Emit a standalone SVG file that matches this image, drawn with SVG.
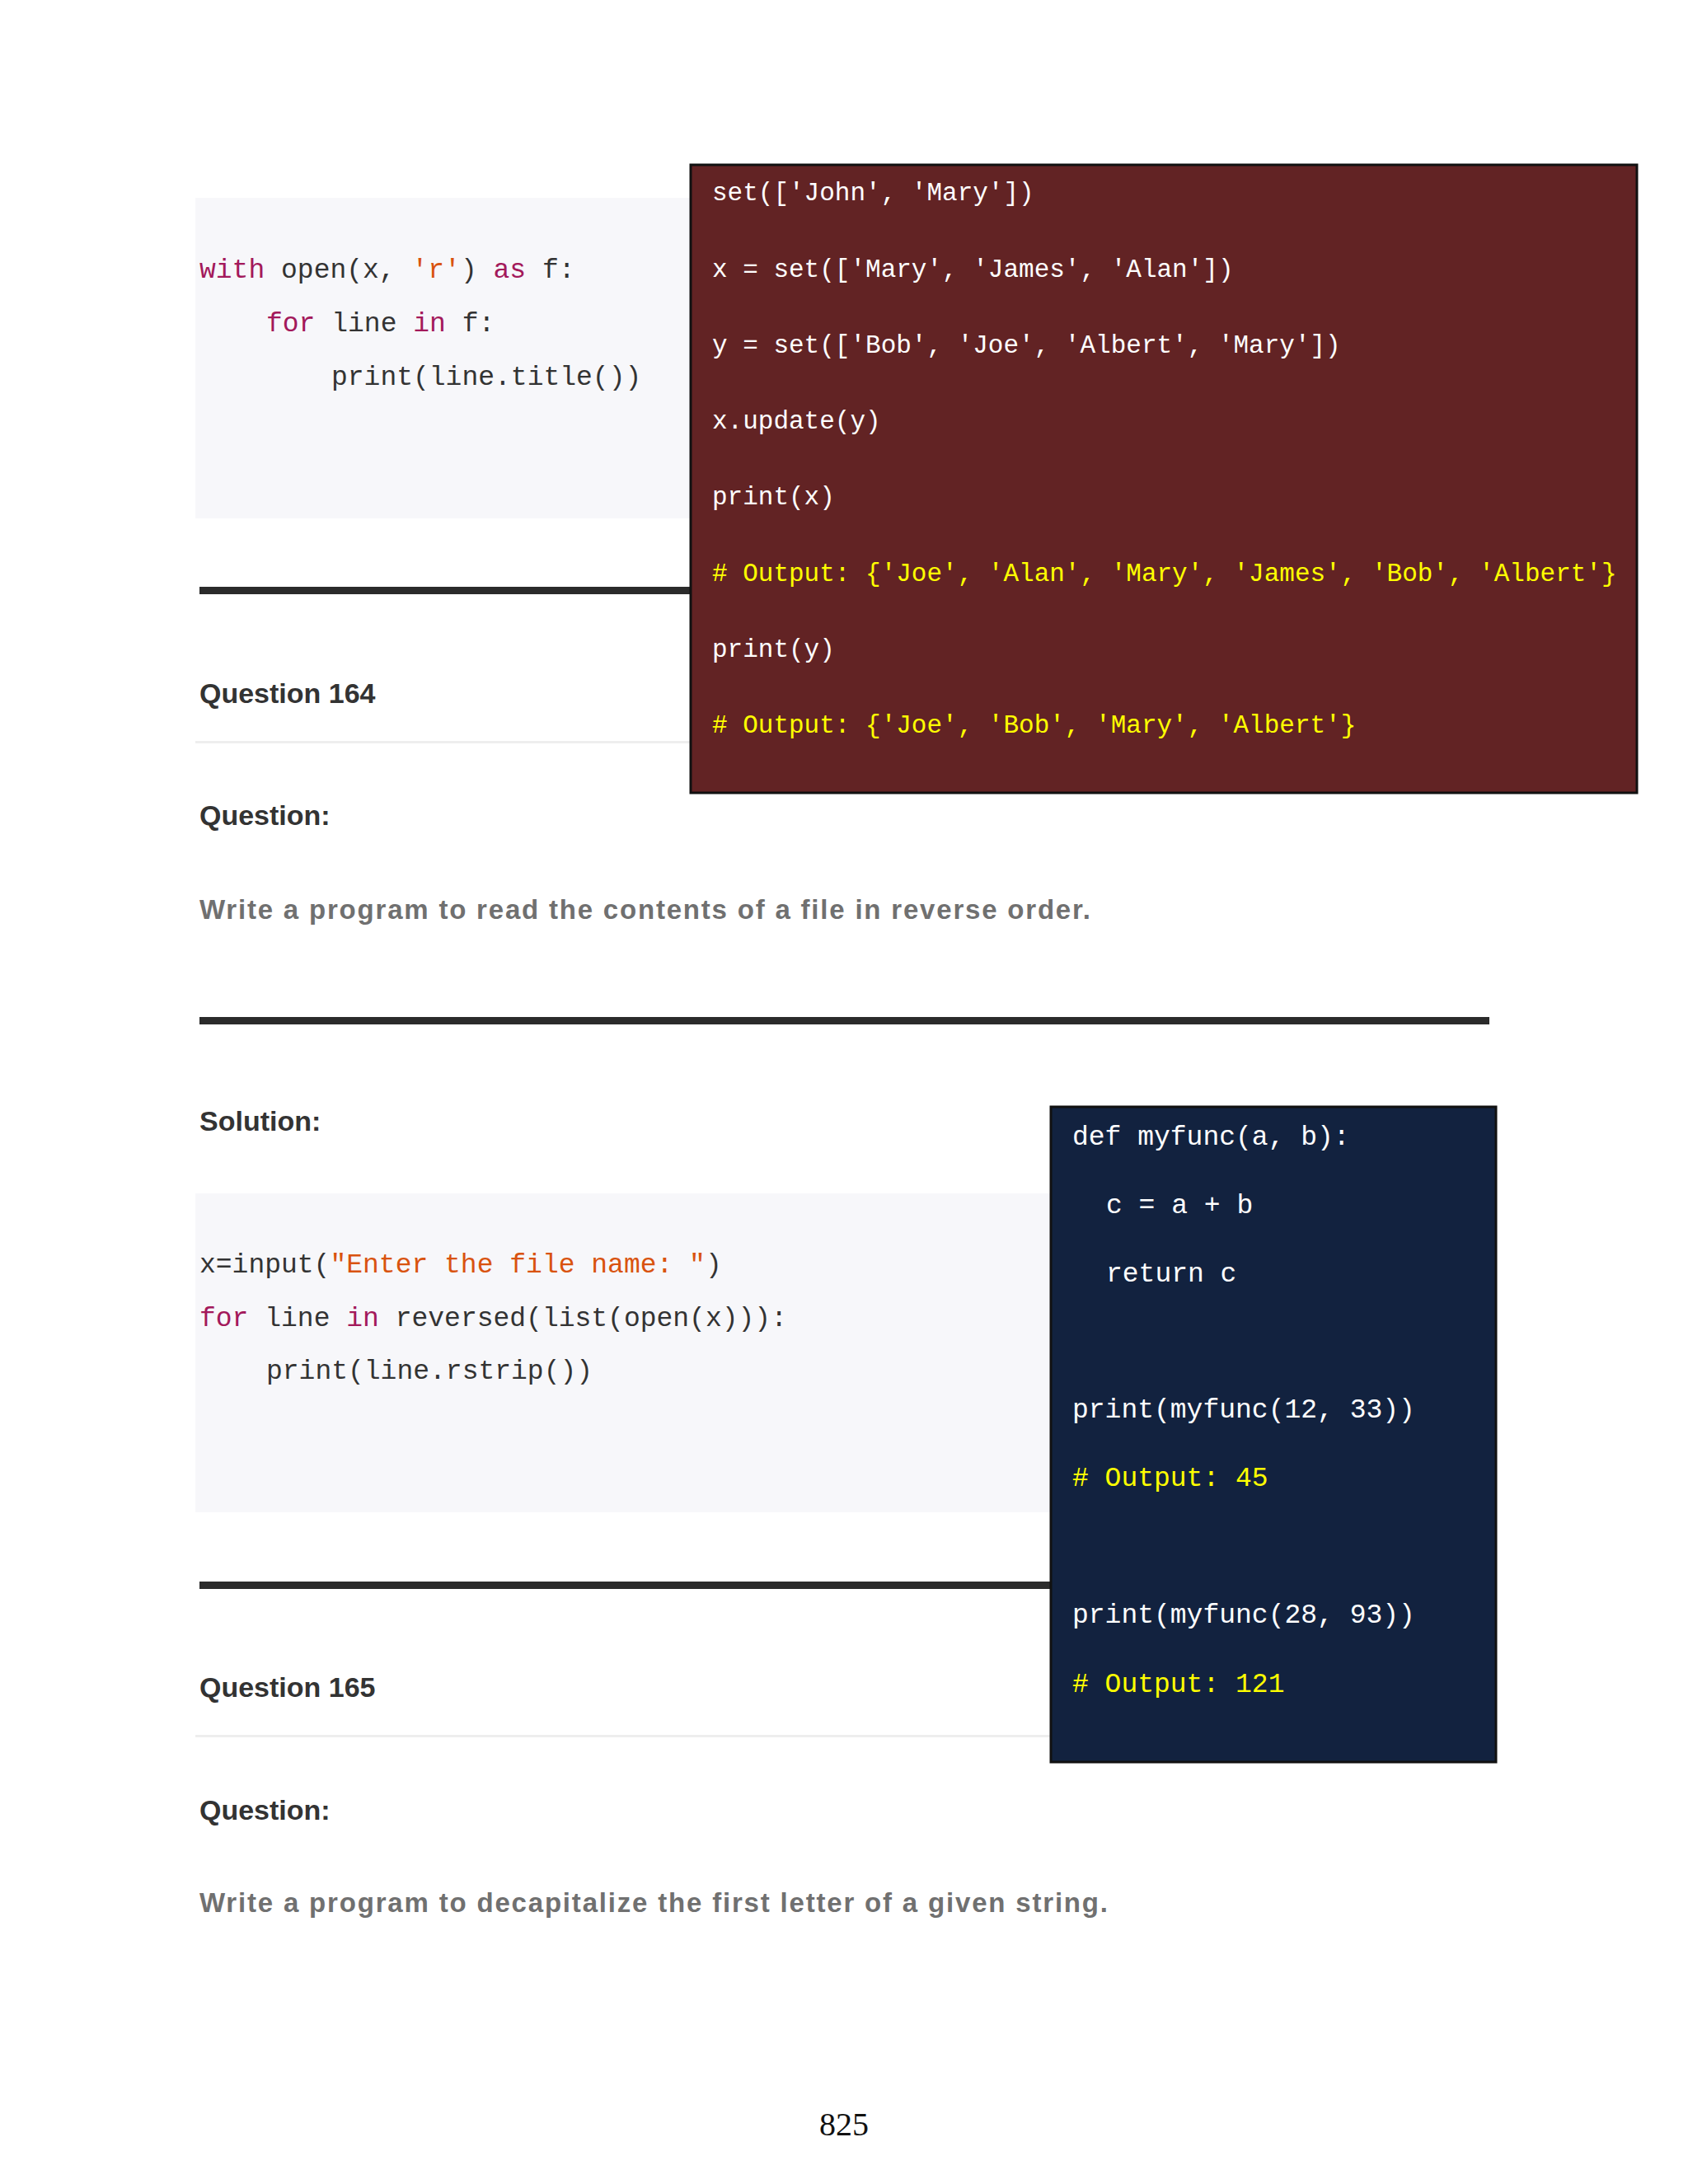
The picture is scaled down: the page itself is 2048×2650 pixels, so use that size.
<svg xmlns="http://www.w3.org/2000/svg" width="2048" height="2650" viewBox="0 0 2048 2650">
<style>
.c{font-family:"Liberation Mono","DejaVu Sans Mono",monospace;font-size:33px;fill:#333}
.k{fill:#a3195b}.s{fill:#d9530f}
.w{font-family:"Liberation Mono","DejaVu Sans Mono",monospace;font-size:31px;fill:#fff}
.n{font-family:"Liberation Mono","DejaVu Sans Mono",monospace;font-size:33px;fill:#fff}
.y{fill:#ffff00}
.h{font-family:"Liberation Sans",Arial,sans-serif;font-weight:bold;font-size:34px;fill:#333}
.g{font-family:"Liberation Sans",Arial,sans-serif;font-weight:bold;font-size:33px;fill:#707070}
</style>
<rect width="2048" height="2650" fill="#fff"/>
<g id="code1">
<rect x="237" y="240" width="600" height="389" fill="#f7f7fa"/>
<text class="c" x="242" y="337"><tspan class="k">with</tspan> open(x, <tspan class="s">'r'</tspan>) <tspan class="k">as</tspan> f:</text>
<text class="c" x="323" y="402"><tspan class="k">for</tspan> line <tspan class="k">in</tspan> f:</text>
<text class="c" x="402" y="467">print(line.title())</text>
</g>
<rect x="242" y="712" width="600" height="9" fill="#2b2b2b"/>
<text class="h" x="242" y="853">Question 164</text>
<rect x="237" y="899" width="605" height="3" fill="#eeeeee"/>
<text class="h" x="242" y="1001">Question:</text>
<text class="g" x="242" y="1115" textLength="1081">Write a program to read the contents of a file in reverse order.</text>
<rect x="242" y="1234" width="1565" height="9" fill="#2b2b2b"/>
<text class="h" x="242" y="1372">Solution:</text>
<g id="code2">
<rect x="237" y="1448" width="1040" height="387" fill="#f7f7fa"/>
<text class="c" x="242" y="1544">x=input(<tspan class="s">"Enter the file name: "</tspan>)</text>
<text class="c" x="242" y="1609"><tspan class="k">for</tspan> line <tspan class="k">in</tspan> reversed(list(open(x))):</text>
<text class="c" x="323" y="1673">print(line.rstrip())</text>
</g>
<rect x="242" y="1919" width="1040" height="9" fill="#2b2b2b"/>
<text class="h" x="242" y="2059">Question 165</text>
<rect x="237" y="2105" width="1040" height="3" fill="#eeeeee"/>
<text class="h" x="242" y="2208">Question:</text>
<text class="g" x="242" y="2320" textLength="1102">Write a program to decapitalize the first letter of a given string.</text>
<g id="redbox">
<rect x="838" y="200" width="1148" height="762" fill="#622324" stroke="#111" stroke-width="3"/>
<text class="w" x="864" y="243">set(['John', 'Mary'])</text>
<text class="w" x="864" y="336">x = set(['Mary', 'James', 'Alan'])</text>
<text class="w" x="864" y="428">y = set(['Bob', 'Joe', 'Albert', 'Mary'])</text>
<text class="w" x="864" y="520">x.update(y)</text>
<text class="w" x="864" y="612">print(x)</text>
<text class="w y" x="864" y="705">#&#160;Output:&#160;{'Joe',&#160;'Alan',&#160;'Mary',&#160;'James',&#160;'Bob',&#160;'Albert'}</text>
<text class="w" x="864" y="797">print(y)</text>
<text class="w y" x="864" y="889">#&#160;Output:&#160;{'Joe',&#160;'Bob',&#160;'Mary',&#160;'Albert'}</text>
</g>
<g id="navybox">
<rect x="1275" y="1343" width="540" height="795" fill="#12223f" stroke="#111" stroke-width="3"/>
<text class="n" x="1301" y="1389">def myfunc(a, b):</text>
<text class="n" x="1342" y="1472">c = a + b</text>
<text class="n" x="1342" y="1555">return c</text>
<text class="n" x="1301" y="1720">print(myfunc(12, 33))</text>
<text class="n y" x="1301" y="1803"># Output: 45</text>
<text class="n" x="1301" y="1969">print(myfunc(28, 93))</text>
<text class="n y" x="1301" y="2053"># Output: 121</text>
</g>
<text x="1024" y="2591" text-anchor="middle" font-family="Liberation Serif,serif" font-size="40" fill="#111">825</text>
</svg>
